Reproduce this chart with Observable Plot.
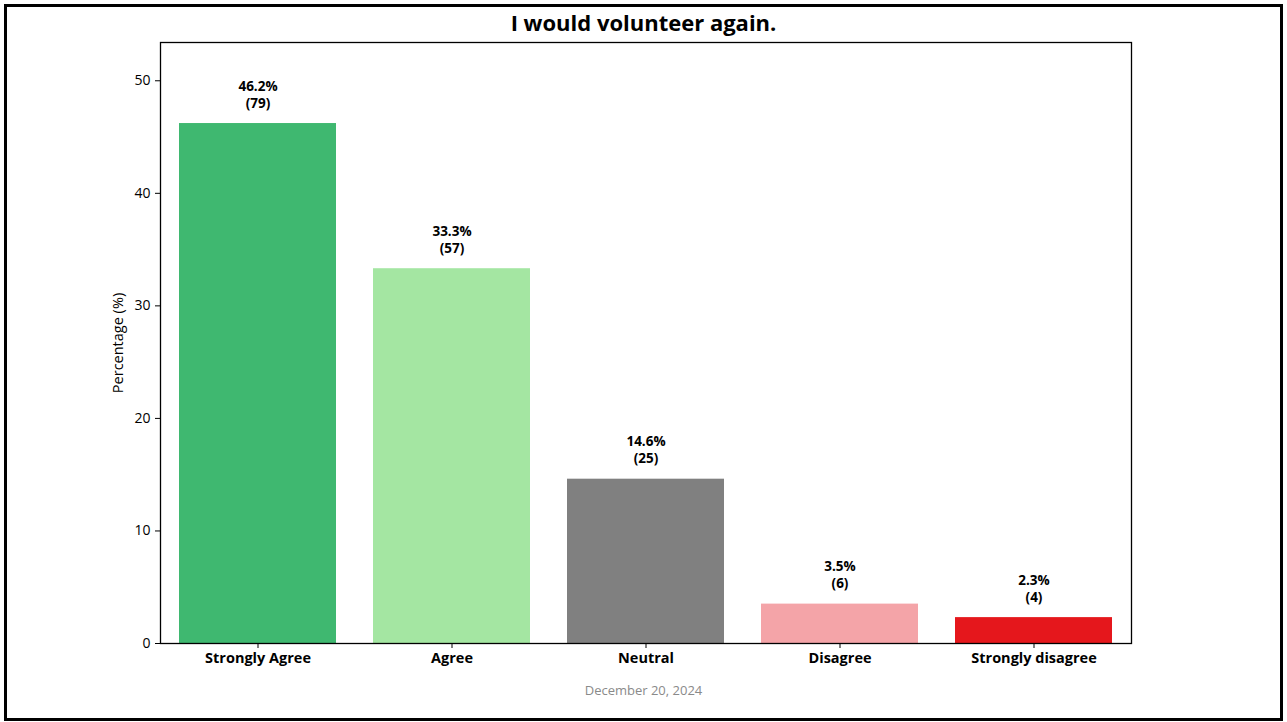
<!DOCTYPE html>
<html>
<head>
<meta charset="utf-8">
<script src="https://cdn.jsdelivr.net/npm/d3@7"></script>
<script src="https://cdn.jsdelivr.net/npm/@observablehq/plot@0.6"></script>
<style>
  html, body { margin: 0; padding: 0; background: #fff; }
  #frame { position: relative; width: 1287px; height: 722px; overflow: hidden; font-family: "Open Sans", sans-serif; }
  #border { position: absolute; left: 4px; top: 4px; width: 1273px; height: 711px; border: 3px solid #000; }
  #title { position: absolute; left: 0; width: 1287px; top: 7px; text-align: center; font-size: 22px; font-weight: 700; color: #000; }
  #chart { position: absolute; left: 0; top: 0; }
  #footer { position: absolute; left: 0; width: 1287px; top: 681px; text-align: center; font-size: 13px; color: #8a8a8a; }
</style>
</head>
<body>
<div id="frame">
  <div id="chart"></div>
  <div id="title">I would volunteer again.</div>
  <div id="footer">December 20, 2024</div>
  <div id="border"></div>
</div>
<script>
const categories = ["Strongly Agree", "Agree", "Neutral", "Disagree", "Strongly disagree"];
const percentages = [46.2, 33.3, 14.6, 3.5, 2.3];
const counts = [79, 57, 25, 6, 4];
const colors = ["#3fb870", "#a4e6a2", "#808080", "#f4a4a8", "#e5171c"];
const yTicks = [0, 10, 20, 30, 40, 50];

const data = categories.map((c, i) => ({
  category: c,
  pct: percentages[i],
  n: counts[i],
  color: colors[i],
  label: `${percentages[i].toFixed(1)}%\n(${counts[i]})`
}));

const chart = Plot.plot({
  width: 1287,
  height: 722,
  marginLeft: 160,
  marginRight: 156,
  marginTop: 42,
  marginBottom: 79,
  style: { fontFamily: "Open Sans, sans-serif", fontSize: "14px", color: "#000", background: "transparent" },
  x: { domain: categories, paddingInner: 0.19, paddingOuter: 0.095, label: null },
  y: { domain: [0, 53.4], ticks: yTicks, label: null },
  marks: [
    Plot.barY(data, { x: "category", y: "pct", fill: "color" }),
    Plot.text(data, {
      x: "category", y: "pct", text: "label",
      lineAnchor: "bottom", dy: -16, fontWeight: 700, fontSize: 13.5, lineHeight: 1.25, fill: "#000"
    }),
    Plot.frame({ stroke: "#000", strokeWidth: 1.3 }),
    Plot.axisY({ ticks: yTicks, tickSize: 5, tickPadding: 5, fontSize: 14, label: null }),
    Plot.axisX({ tickSize: 5, tickPadding: 4, fontSize: 14.5, fontWeight: 700, label: null }),
    Plot.text(["Percentage (%)"], {
      frameAnchor: "left", textAnchor: "middle", dx: -42, rotate: -90, fontSize: 14.5, fill: "#000"
    })
  ]
});
document.getElementById("chart").appendChild(chart);
</script>
</body>
</html>
